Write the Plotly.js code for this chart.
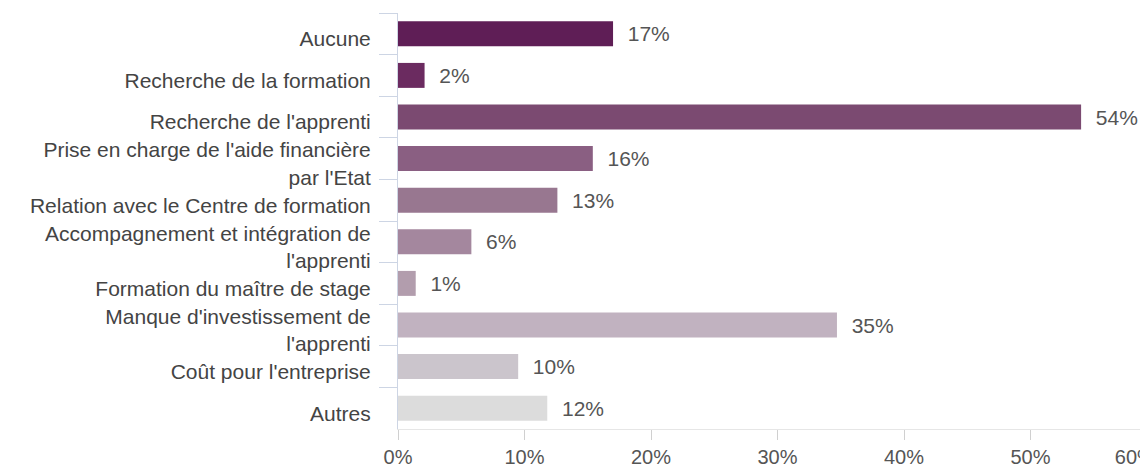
<!DOCTYPE html>
<html>
<head>
<meta charset="utf-8">
<script src="https://cdn.plot.ly/plotly-3.0.1.min.js"></script>
<style>
html, body { margin: 0; padding: 0; overflow: hidden; background: #fff; width: 1140px; height: 468px; }
#chart { width: 1200px; height: 468px; }
</style>
</head>
<body>
<div id="chart"></div>
<script>
const categories = [
  "Aucune",
  "Recherche de la formation",
  "Recherche de l'apprenti",
  "Prise en charge de l'aide financière<br>par l'Etat",
  "Relation avec le Centre de formation",
  "Accompagnement et intégration de<br>l'apprenti",
  "Formation du maître de stage",
  "Manque d'investissement de<br>l'apprenti",
  "Coût pour l'entreprise",
  "Autres"
];
const values = [17.0, 2.1, 54.0, 15.4, 12.6, 5.8, 1.4, 34.7, 9.5, 11.8];
const valueLabels = ["17%", "2%", "54%", "16%", "13%", "6%", "1%", "35%", "10%", "12%"];
const barColors = ["#5f1e56", "#6b2b60", "#7b4a71", "#8a5f82", "#987790", "#a4879e", "#b29dad", "#c1b2c0", "#cbc5cc", "#dcdcdc"];
const xTickVals = [0, 10, 20, 30, 40, 50, 60];
const xTickText = ["0%", "10%", "20%", "30%", "40%", "50%", "60%"];

// the last tick label sits flush against the right edge in the original
const xTickTextShown = xTickText.map((t, i) =>
  i === xTickText.length - 1 ? t + '\u00a0'.repeat(8) : t);

const trace = {
  type: 'bar',
  orientation: 'h',
  y: categories,
  x: values,
  text: valueLabels.map(t => '\u00a0\u00a0' + t),
  textposition: 'outside',
  constraintext: 'none',
  cliponaxis: false,
  textfont: { family: 'Liberation Sans, Arial, sans-serif', size: 21, color: '#555555' },
  marker: { color: barColors, line: { width: 0 } },
  hoverinfo: 'none'
};

const layout = {
  width: 1200,
  height: 468,
  margin: { l: 398, r: 43, t: 13, b: 39, pad: 0 },
  paper_bgcolor: '#ffffff',
  plot_bgcolor: '#ffffff',
  bargap: 0.4,
  showlegend: false,
  font: { family: 'Liberation Sans, Arial, sans-serif', size: 21, color: '#444444' },
  xaxis: {
    range: [0, 60],
    tickvals: xTickVals,
    ticktext: xTickTextShown,
    ticklabeloverflow: 'allow',
    showgrid: false,
    zeroline: false,
    showline: true,
    linecolor: '#e6e6e6',
    linewidth: 1,
    ticks: 'outside',
    ticklen: 10,
    tickcolor: '#d0d0d0',
    tickfont: { size: 20, color: '#555555' },
    fixedrange: true
  },
  yaxis: {
    autorange: 'reversed',
    showgrid: false,
    zeroline: false,
    showline: true,
    linecolor: '#cdd5e4',
    linewidth: 1,
    ticks: 'outside',
    tickson: 'boundaries',
    ticklen: 18,
    tickcolor: '#cdd5e4',
    ticklabelstandoff: 22,
    ticklabelshift: -5,
    tickfont: { size: 21, color: '#444444' },
    fixedrange: true
  }
};

Plotly.newPlot('chart', [trace], layout, { staticPlot: true, displayModeBar: false });
</script>
</body>
</html>
